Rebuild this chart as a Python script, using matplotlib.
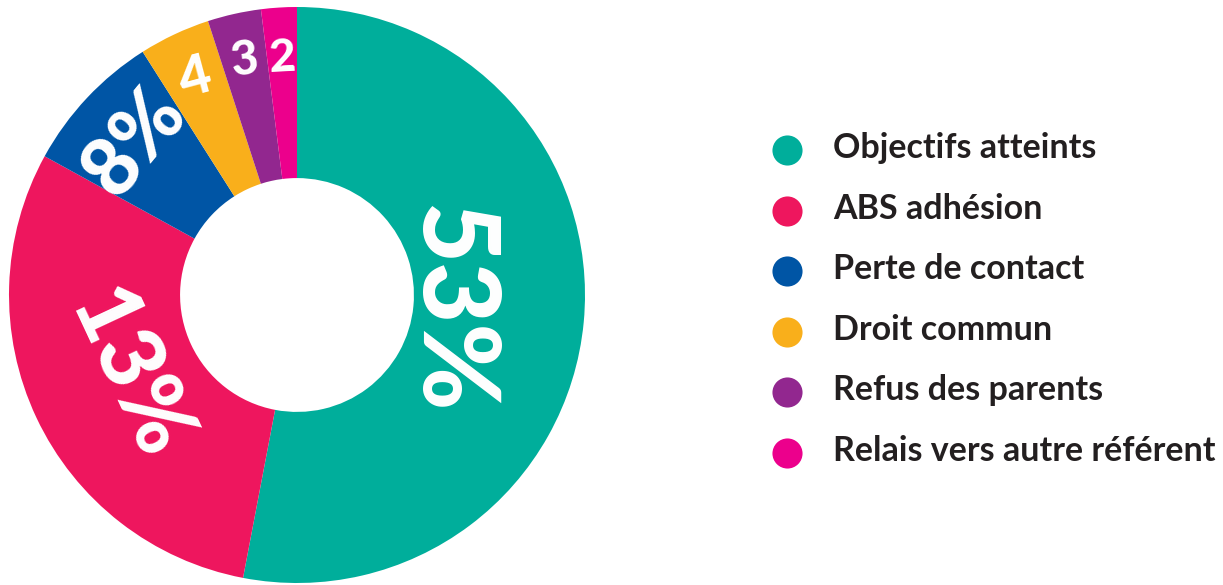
import matplotlib.pyplot as plt
from matplotlib import font_manager as fm
import numpy as np

W, H = 1223, 585

# data
categories = ['Objectifs atteints', 'ABS adhésion', 'Perte de contact',
              'Droit commun', 'Refus des parents', 'Relais vers autre référent']
values = [53, 30, 8, 4, 3, 2]
labels = ['53%', '13%', '8%', '4', '3', '2']
colors = ['#00AE9B', '#EE165E', '#0055A5', '#F9AF1B', '#92278F', '#EC008C']

# label placement (radius fraction, rotation, size)
lab_r = [0.535, 0.65, 0.77, 0.83, 0.835, 0.825]
lab_rot = [-90, -65, 50, 15, 7, 3]
lab_size = [76, 64, 58, 40, 34, 33]

TXT = '#231F20'


def lato(name):
    for f in fm.fontManager.ttflist:
        if f.fname.endswith(name):
            return fm.FontProperties(fname=f.fname)
    return fm.FontProperties(family='DejaVu Sans', weight='bold')


heavy = lato('Lato-Black.ttf')
bold = lato('Lato-Bold.ttf')

fig = plt.figure(figsize=(W / 100, H / 100), dpi=100)
ax = fig.add_axes([9 / W, 2 / H, 576 / W, 576 / H])
wedges, _ = ax.pie(values, colors=colors, startangle=90, counterclock=False,
                   radius=1, wedgeprops=dict(width=0.594, linewidth=0))
ax.set_xlim(-1, 1)
ax.set_ylim(-1, 1)
ax.set_aspect('equal')
ax.axis('off')

for w, lab, r, rot, fs in zip(wedges, labels, lab_r, lab_rot, lab_size):
    th = np.deg2rad((w.theta1 + w.theta2) / 2)
    ax.text(r * np.cos(th), r * np.sin(th), lab, rotation=rot,
            rotation_mode='anchor', ha='center', va='center',
            color='white', fontsize=fs, fontproperties=heavy)

# legend drawn by hand in pixel coords
lax = fig.add_axes([0, 0, 1, 1])
lax.set_xlim(0, W)
lax.set_ylim(H, 0)
lax.axis('off')
y0, dy = 150, 60.6
for i, (cat, c) in enumerate(zip(categories, colors)):
    y = y0 + i * dy
    lax.scatter([787], [y], s=470, color=c, linewidths=0)
    lax.text(833, y + 8, cat, ha='left', va='baseline', fontsize=24.5,
             fontproperties=bold, color=TXT)

fig.savefig('out.png', dpi=100)
